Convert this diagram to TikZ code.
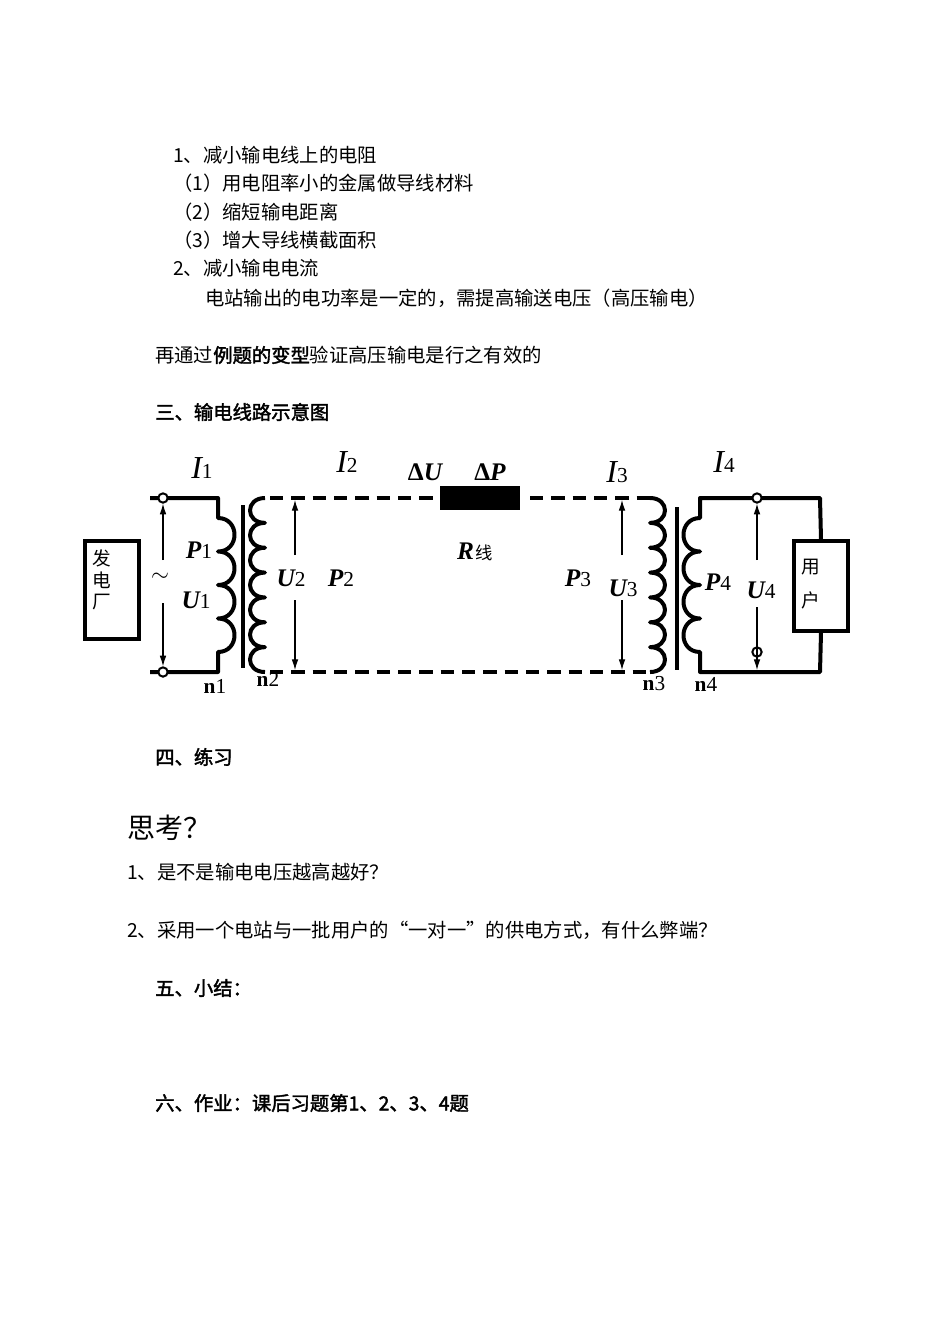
\documentclass[tikz,border=0pt]{standalone}
\usepackage{fontspec}
\setmainfont{Liberation Serif}
\newfontfamily\cjk{Noto Sans CJK SC}
\newfontfamily\cjkb{Noto Sans CJK SC}[FakeBold=2]
\usetikzlibrary{arrows.meta}
\tikzset{
  txt/.style={anchor=west,inner sep=0pt,font=\fontsize{14.5pt}{16pt}\cjk},
  btxt/.style={anchor=west,inner sep=0pt,font=\fontsize{14.5pt}{16pt}\cjkb},
  wire/.style={line width=3pt,line join=round},
  dwire/.style={line width=3pt,dash pattern=on 10pt off 6pt},
  term/.style={circle,draw,line width=1.5pt,fill=white,inner sep=0pt,minimum size=7pt},
  varr/.style={line width=0.8pt,-{Latex[length=8pt,width=5pt]}},
  lab/.style={inner sep=0pt,font=\fontsize{19pt}{20pt}\selectfont\bfseries\itshape},
  ilab/.style={inner sep=0pt,font=\fontsize{24pt}{26pt}\selectfont\itshape},
  nlab/.style={inner sep=0pt,font=\fontsize{16pt}{17pt}\selectfont\bfseries},
}
\newcommand{\sbs}[1]{{\upshape\mdseries\fontsize{16pt}{17pt}\selectfont #1}}
\begin{document}
\begin{tikzpicture}[x=0.75pt,y=-0.75pt]
\useasboundingbox (0,0) rectangle (950,1342);
% texts
\node[txt] (t1) at (173,155) {1、减小输电线上的电阻};
\node[txt] (t2) at (173,183) {（1）用电阻率小的金属做导线材料};
\node[txt] (t3) at (173,212) {（2）缩短输电距离};
\node[txt] (t4) at (173,240) {（3）增大导线横截面积};
\node[txt] (t5) at (173,268) {2、减小输电电流};
\node[txt] (t6) at (205,298) {电站输出的电功率是一定的，需提高输送电压（高压输电）};
\node[txt] (t7) at (155,355) {再通过{\cjkb 例题的变型}验证高压输电是行之有效的};
\node[btxt] (t8) at (155,412) {三、输电线路示意图};
\node[btxt] (t9) at (155,757) {四、练习};
\node[anchor=west,inner sep=0pt,font=\fontsize{21pt}{23pt}\cjk] (t10) at (127,828) {思考？};
\node[txt] (t11) at (127,872) {1、是不是输电电压越高越好？};
\node[txt] (t12) at (127,930) {2、采用一个电站与一批用户的“一对一”的供电方式，有什么弊端？};
\node[btxt] (t13) at (155,988) {五、小结：};
\node[btxt] (t14) at (155,1103) {六、作业：课后习题第1、2、3、4题};
% generator
\node[draw,line width=3pt,minimum width=40pt,minimum height=74pt,inner sep=0pt] (gen) at (112,590) {};
\node[font=\fontsize{14pt}{16pt}\cjk,align=center] at (102,580) {发\\电\\厂};
% left transformer primary
\draw[wire] (150,498) -- (218,498) -- (218,518)
  \foreach \k in {0,...,3}{ .. controls (240,518+33.5*\k) and (240,551.5+33.5*\k) .. (218,551.5+33.5*\k)}
  -- (218,672) -- (150,672);
\node[term] (a1) at (163,498) {};
\node[term] (a2) at (163,672) {};
\draw[line width=3pt] (243,505) -- (243,668);
% secondary n2
\draw[wire] (265,498)
  \foreach \k in {0,...,6}{ .. controls (245,498+24.86*\k) and (245,522.86+24.86*\k) .. (265,522.86+24.86*\k)};
\draw[dwire] (270,498) -- (440,498);
\node[fill=black,minimum width=60pt,minimum height=18pt,inner sep=0pt] (res) at (480,498) {};
\draw[dwire] (530,498) -- (650,498);
\draw[dwire] (270,672) -- (650,672);
% right transformer
\draw[wire] (650,498)
  \foreach \k in {0,...,6}{ .. controls (670,498+24.86*\k) and (670,522.86+24.86*\k) .. (650,522.86+24.86*\k)};
\draw[line width=3pt] (677,507) -- (677,670);
\node[draw,line width=3pt,minimum width=41pt,minimum height=67pt,inner sep=0pt] (user) at (821,586) {};
\node[font=\fontsize{14pt}{16pt}\cjk,align=center] at (811,584) {用\\[10pt]户};
\draw[wire] (user.north) -- (820,498) -- (700,498) -- (700,518)
  \foreach \k in {0,...,3}{ .. controls (678,518+33.5*\k) and (678,551.5+33.5*\k) .. (700,551.5+33.5*\k)}
  -- (700,672) -- (820,672) -- (user.south);
\node[term] (b1) at (757,498) {};
\node[term] (b2) at (757,652) {};
% voltage arrows
\draw[varr] (163,560) -- (a1);
\draw[varr] (163,603) -- (a2);
\node at (160,577) {\fontsize{18pt}{18pt}\selectfont $\sim$};
\draw[varr] (295,555) -- (295,500);
\draw[varr] (295,600) -- (295,670);
\draw[varr] (622,555) -- (622,500);
\draw[varr] (622,600) -- (622,670);
\draw[varr] (757,560) -- (b1);
\draw[varr] (757,607) -- (757,670);
% labels
\node[ilab] at (202,468) {I\sbs{1}};
\node[ilab] at (347,462) {I\sbs{2}};
\node[ilab] at (617,472) {I\sbs{3}};
\node[ilab] at (724,462) {I\sbs{4}};
\node[lab] at (425,472) {{\upshape Δ}U};
\node[lab] at (490,472) {{\upshape Δ}P};
\node[lab] at (475,552) {R\kern1pt{\cjk\upshape\mdseries\fontsize{13pt}{13pt}\selectfont 线}};
\node[lab] at (199,550) {P\sbs{1}};
\node[lab] at (196,600) {U\sbs{1}};
\node[lab] at (291,578) {U\sbs{2}};
\node[lab] at (341,578) {P\sbs{2}};
\node[lab] at (578,578) {P\sbs{3}};
\node[lab] at (623,588) {U\sbs{3}};
\node[lab] at (718,582) {P\sbs{4}};
\node[lab] at (761,590) {U\sbs{4}};
\node[nlab] at (215,686) {n\sbs{1}};
\node[nlab] at (268,679) {n\sbs{2}};
\node[nlab] at (654,684) {n\sbs{3}};
\node[nlab] at (706,684) {n\sbs{4}};
\end{tikzpicture}
\end{document}
